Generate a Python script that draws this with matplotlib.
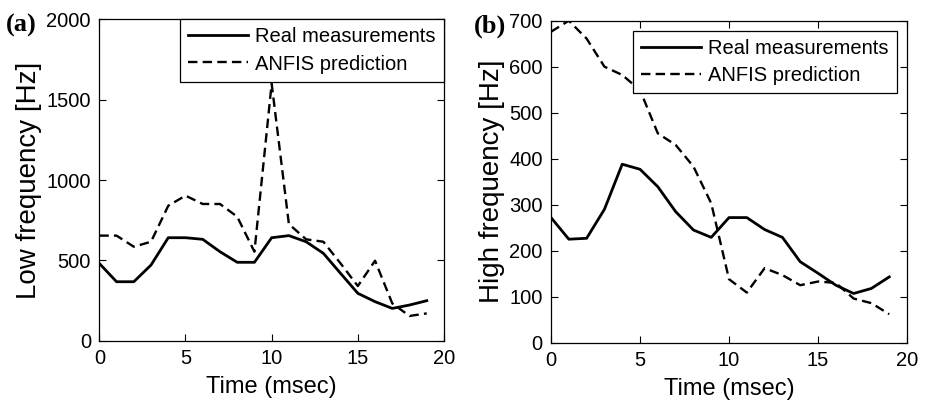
import matplotlib.pyplot as plt

plt.rcParams['font.family'] = ['Liberation Sans', 'DejaVu Sans']

# time axis (msec)
time = list(range(20))

# (a) low frequency
low_real = [481, 367, 367, 471, 641, 641, 631, 554, 488, 488,
            641, 654, 616, 544, 419, 295, 243, 201, 222, 249]
low_anfis = [654, 654, 585, 616, 840, 903, 851, 851, 772, 554,
             1600, 726, 631, 616, 481, 340, 498, 232, 154, 170]

# (b) high frequency
high_real = [272, 225, 227, 290, 388, 377, 339, 285, 245, 229,
             272, 272, 246, 229, 176, 151, 125, 107, 118, 143]
high_anfis = [676, 700, 661, 600, 582, 549, 455, 430, 383, 303,
              138, 109, 162, 147, 125, 133, 130, 96, 86, 62]

fig = plt.figure(figsize=(9.3, 4.04), dpi=100)
ax1 = fig.add_axes([0.1068, 0.1567, 0.3706, 0.7953])
ax2 = fig.add_axes([0.5925, 0.1517, 0.3828, 0.7971])


def style(ax, y, yl, ylabel, ylim, yticks, pad):
    ax.plot(time, y, color='black', linewidth=2.0, label='Real measurements')
    ax.plot(time, yl, color='black', linewidth=1.7, linestyle=(0, (4, 2.2)),
            label='ANFIS prediction')
    ax.set_xlim(0, 20)
    ax.set_ylim(*ylim)
    ax.set_xticks([0, 5, 10, 15, 20])
    ax.set_yticks(yticks)
    ax.tick_params(direction='in', top=True, right=True, length=5,
                   labelsize=14.5, width=0.8, pad=6)
    ax.set_xlabel('Time (msec)', fontsize=17, labelpad=6)
    ax.set_ylabel(ylabel, fontsize=20, labelpad=3)
    for s in ax.spines.values():
        s.set_linewidth(0.9)
    leg = ax.legend(loc='upper right', fontsize=14.5, fancybox=False,
                    edgecolor='black', framealpha=1, handlelength=3.0,
                    handletextpad=0.35, borderaxespad=pad, borderpad=0.4,
                    labelspacing=0.4)
    leg.get_frame().set_linewidth(0.9)


style(ax1, low_real, low_anfis, 'Low frequency [Hz]', (0, 2000),
      [0, 500, 1000, 1500, 2000], 0)
style(ax2, high_real, high_anfis, 'High frequency [Hz]', (0, 700),
      list(range(0, 701, 100)), 0.5)

fig.text(0.006, 0.965, '(a)', fontsize=19, fontweight='bold',
         family='Liberation Serif', va='top')
fig.text(0.510, 0.965, '(b)', fontsize=19, fontweight='bold',
         family='Liberation Serif', va='top')

fig.savefig('out.png', dpi=100)
